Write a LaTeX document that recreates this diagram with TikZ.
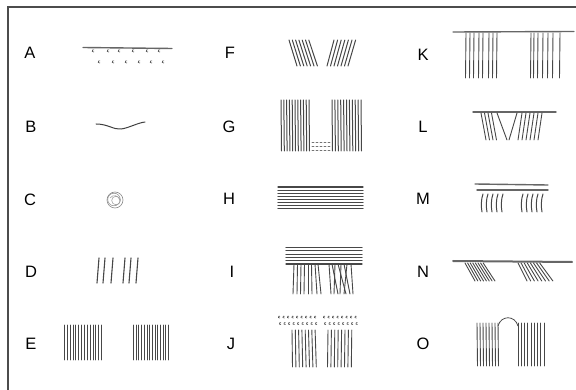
\documentclass[tikz,border=0pt]{standalone}
\usepackage{fontspec}
\setmainfont{Liberation Sans}
\begin{document}
\begin{tikzpicture}[x=1pt,y=-1pt,line cap=round,
  fibre/.style={black!72,line width=0.9pt},
  bar/.style={black!60,line width=1.4pt},
  curl/.style={black!70,line width=0.6pt},
  lbl/.style={font=\fontsize{16.5}{19}\selectfont}]
\useasboundingbox (0,0) rectangle (576,390);
% frame
\draw[black!70,line width=1.6pt] (8,390) -- (8,7) -- (576,7);
% labels
\node[lbl] (lA) at (30,53) {A};
\node[lbl] (lB) at (31,127) {B};
\node[lbl] (lC) at (30,200) {C};
\node[lbl] (lD) at (31,272) {D};
\node[lbl] (lE) at (31,344) {E};
\node[lbl] (lF) at (230,53) {F};
\node[lbl] (lG) at (229,127) {G};
\node[lbl] (lH) at (229,199) {H};
\node[lbl] (lI) at (232,272) {I};
\node[lbl] (lJ) at (231,344) {J};
\node[lbl] (lK) at (423,55) {K};
\node[lbl] (lL) at (423,127) {L};
\node[lbl] (lM) at (423,199) {M};
\node[lbl] (lN) at (423,272) {N};
\node[lbl] (lO) at (423,344) {O};
% A
\draw[bar] (83,47.5) -- (172,48.5);
\foreach \x in {93,108,119,133,147,159}
  \draw[curl] ({\x+0.9},52) arc[start angle=60,end angle=300,radius=1.2];
\foreach \x in {99,113,126,139,151,163}
  \draw[curl] ({\x+0.9},63) arc[start angle=60,end angle=300,radius=1.2];
% B
\draw[black!75,line width=1pt] (96,124) .. controls (108,124) and (114,130) .. (121,129) .. controls (129,128) and (137,123) .. (145,122);
% C
\draw[black!45,line width=0.6pt] (115,200) circle (8);
\draw[black!45,line width=0.5pt] (114,199.5) circle (6.3);
\draw[black!40,line width=0.5pt] (116,200.5) circle (4.3);
\draw[black!40,line width=0.5pt] (110,198) .. controls (113,194) and (119,195) .. (120,201);
% D
\foreach \x in {97,103,111,123,129,136}
  \draw[fibre,line width=1.1pt] ({\x+2},258) -- (\x,283);
% E
\foreach \i in {0,...,13} {
  \draw[fibre] ({64.5+\i*2.85},325) -- ({64.5+\i*2.85},360);
  \draw[fibre] ({133.5+\i*2.7},325) -- ({133.5+\i*2.7},360);
}
% F
\foreach \i in {0,...,6} {
  \draw[fibre,line width=1pt] ({289+\i*3.3},40) -- ({297+\i*3.4},66);
  \draw[fibre,line width=1pt] ({334+\i*3.6},40) -- ({327+\i*3.5},66);
}
% G
\foreach \i in {0,...,10} {
  \draw[fibre,line width=1pt] ({281+\i*2.8},100) -- ({281.5+\i*2.8},151);
  \draw[fibre,line width=1pt] ({332+\i*2.9},100) -- ({332.5+\i*2.9},151);
}
\foreach \y in {142,146,150}
  \foreach \x in {312,316,...,328}
    \draw[curl,black!55] (\x,\y) -- ({\x+2},\y);
% H
\foreach \i in {0,...,7}
  \draw[fibre,line width=1.1pt] (278,{187+\i*3.1}) -- (363,{187+\i*3.1});
% I
\foreach \i in {0,...,5}
  \draw[fibre,line width=1.1pt] (286,{247.5+\i*3.3}) -- (362,{247.5+\i*3.3});
\foreach \t/\b in {294/293,297.5/297,301/300.5,304.5/304,308/308,311.5/312,315/317,318/321}
  \draw[fibre] (\t,264) -- (\b,294);
\foreach \t/\b in {329/331,332/338,335/334,338/346,341/340,344/350,347/344,351/353}
  \draw[fibre] (\t,264) -- (\b,294);
% J
\foreach \x in {279,283.5,...,316,324,328.5,...,358}
  \draw[curl] ({\x+0.8},318) arc[start angle=60,end angle=300,radius=1];
\foreach \x in {280,284.5,...,317,325,329.5,...,360}
  \draw[curl] ({\x+0.8},324.5) arc[start angle=60,end angle=300,radius=1];
\foreach \i in {0,...,7} {
  \draw[fibre] ({292+\i*3.3},330) -- ({292.5+\i*3.4},367);
  \draw[fibre] ({328+\i*3.4},330) -- ({327.5+\i*3.4},367);
}
% K
\draw[bar] (453,32) -- (574,31.5);
\foreach \x in {466,470,474,479,483,489,493,497,531,534,538,543,548,553,560}
  \draw[fibre] (\x,33) -- ({\x-0.5},78);
% L
\draw[bar] (473,112) -- (556,112);
\foreach \t/\b in {481/486,484.5/489.5,488/493,491.5/496.5,497/507,517/509,522/518,526/522,530/526,534/530,538/534,542/538}
  \draw[fibre] (\t,113) -- (\b,140);
% M
\draw[bar] (475,184) -- (548,185);
\draw[bar] (477,190) -- (548,190);
\foreach \x in {482,487,492,497,502,522,527,532,537,542}
  \draw[fibre,line width=1pt] ({\x+1},194) .. controls ({\x-1},199) and ({\x-1},207) .. (\x,212);
% N
\draw[bar,line width=2pt] (453,261) -- (572,262);
\foreach \i in {0,...,7} {
  \draw[fibre] ({465+\i*2.6},263) -- ({475+\i*2.85},281);
  \draw[fibre] ({518+\i*3.1},263) -- ({527+\i*3.7},281);
}
% O
\foreach \i in {0,...,7}
  \draw[fibre] ({477+\i*3},323) -- ({477.5+\i*3},366);
\foreach \i in {0,...,8}
  \draw[fibre] ({518+\i*3.25},323) -- ({518+\i*3.25},366);
\draw[black!70,line width=0.8pt] (498,326) .. controls (501,315) and (515,315) .. (518,326);
\end{tikzpicture}
\end{document}
